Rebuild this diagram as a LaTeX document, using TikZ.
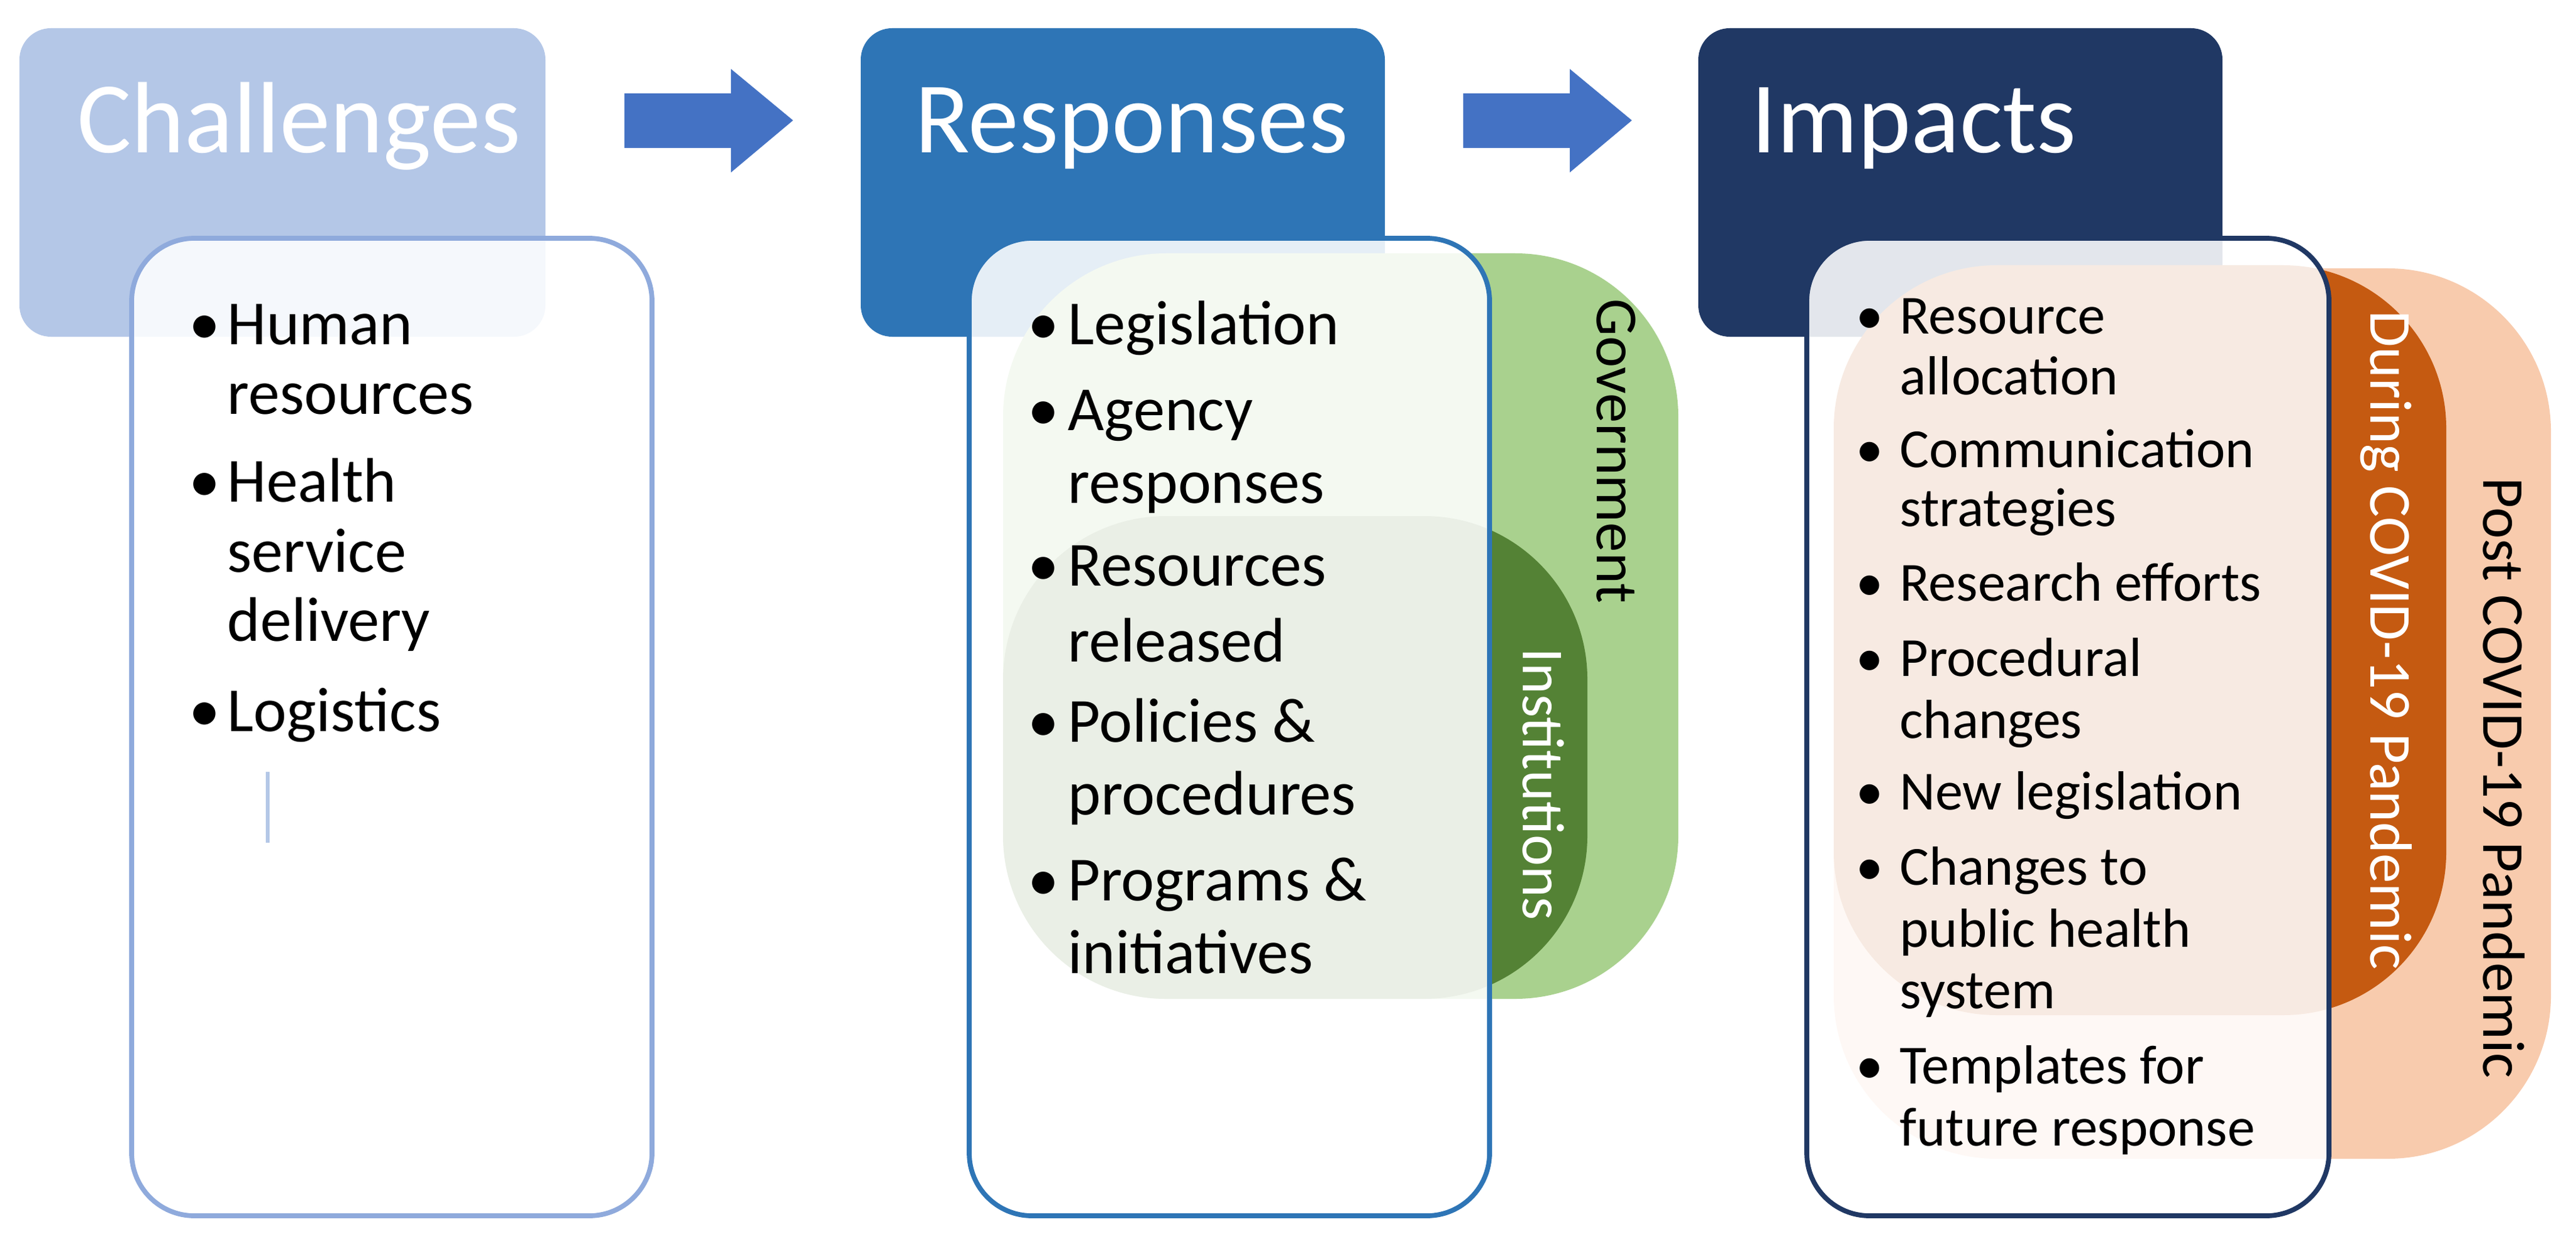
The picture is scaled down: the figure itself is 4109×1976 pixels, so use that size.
\documentclass[tikz,border=0pt]{standalone}
\usepackage{fontspec}
\setmainfont{Carlito}
\usetikzlibrary{positioning}
\definecolor{chB}{HTML}{B4C7E7}
\definecolor{chL}{HTML}{8FAADC}
\definecolor{rsB}{HTML}{2E75B6}
\definecolor{imB}{HTML}{203864}
\definecolor{arB}{HTML}{4472C4}
\definecolor{gvL}{HTML}{A9D18E}
\definecolor{gvD}{HTML}{548235}
\definecolor{orD}{HTML}{C55A11}
\definecolor{orL}{HTML}{F8CBAD}
\tikzset{
  head/.style={rounded corners=0.5cm},
  body/.style={rounded corners=1cm, fill=white, fill opacity=0.88, line width=2.2pt},
  lobe/.style={rounded corners=2.6cm},
  htxt/.style={anchor=base west, inner sep=0, text=white, font=\fontsize{46}{50}\selectfont},
  rtxt/.style={anchor=base west, inner sep=0, font=\fontsize{28.5}{30}\selectfont},
  itxt/.style={anchor=base west, inner sep=0, font=\fontsize{25}{27}\selectfont},
  bul/.style={anchor=base east, inner sep=0},
  vtxt/.style={rotate=-90, inner sep=0},
}
\begin{document}
\begin{tikzpicture}[x=0.01cm,y=-0.01cm]
\useasboundingbox (0,0) rectangle (4109,1976);
% headers
\fill[chB,head] (31,45) rectangle (870,537);
\fill[rsB,head] (1373,45) rectangle (2209,537);
\fill[imB,head] (2709,45) rectangle (3545,537);
\node[htxt] (hc) at (123,244) {Challenges};
\node[htxt] (hr) at (1459,244) {Responses};
\node[htxt] (hi) at (2793,244) {Impacts};
% arrows
\fill[arB] (996,149) -- (1166,149) -- (1166,110) -- (1265,192) -- (1166,275) -- (1166,236) -- (996,236) -- cycle;
\fill[arB] (2334,149) -- (2504,149) -- (2504,110) -- (2603,192) -- (2504,275) -- (2504,236) -- (2334,236) -- cycle;
% green lobes
\fill[gvL,lobe] (1600,404) rectangle (2677,1593);
\fill[gvD,lobe] (1600,823) rectangle (2532,1593);
\node[vtxt,font=\fontsize{27}{29}\selectfont] (gov) at (2578,719) {Government};
\node[vtxt,text=white,font=\fontsize{27}{29}\selectfont] (inst) at (2462,1251) {Institutions};
% orange lobes
\fill[orL,lobe] (2925,428) rectangle (4069,1848);
\fill[orD,lobe] (2925,423) rectangle (3902,1619);
\node[vtxt,font=\fontsize{27}{29}\selectfont] (post) at (3994,1241) {Post COVID-19 Pandemic};
\node[vtxt,text=white,font=\fontsize{27}{29}\selectfont] (dur) at (3806,1021) {During COVID-19 Pandemic};
% bodies
\filldraw[body,draw=chL] (210,380) rectangle (1040,1939);
\filldraw[body,draw=rsB] (1546,380) rectangle (2376,1939);
\filldraw[body,draw=imB] (2882,380) rectangle (3715,1939);
% challenges text
\foreach \y/\t in {550/Human,800/Health,1166/Logistics}{\node[rtxt,bul] at (352,\y) {•};}
\node[rtxt] at (362,550) {Human};
\node[rtxt] at (362,660) {resources};
\node[rtxt] at (362,800) {Health};
\node[rtxt] at (362,912) {service};
\node[rtxt] at (362,1022) {delivery};
\node[rtxt] at (362,1166) {Logistics};
\draw[chB,line width=1.5pt] (427,1231) -- (427,1344);
% responses text
\foreach \y in {549,686,934,1183,1436}{\node[rtxt,bul] at (1690,\y) {•};}
\node[rtxt] at (1703,549) {Legislation};
\node[rtxt] at (1703,686) {Agency};
\node[rtxt] at (1703,802) {responses};
\node[rtxt] at (1703,934) {Resources};
\node[rtxt] at (1703,1055) {released};
\node[rtxt] at (1703,1183) {Policies \&};
\node[rtxt] at (1703,1299) {procedures};
\node[rtxt] at (1703,1436) {Programs \&};
\node[rtxt] at (1703,1552) {initiatives};
% impacts text
\foreach \y in {532,745,958,1078,1291,1411,1728}{\node[itxt,bul] at (3005,\y) {•};}
\node[itxt] at (3030,532) {Resource};
\node[itxt] at (3030,629) {allocation};
\node[itxt] at (3030,745) {Communication};
\node[itxt] at (3030,839) {strategies};
\node[itxt] at (3030,958) {Research efforts};
\node[itxt] at (3030,1078) {Procedural};
\node[itxt] at (3030,1177) {changes};
\node[itxt] at (3030,1291) {New legislation};
\node[itxt] at (3030,1411) {Changes to};
\node[itxt] at (3030,1510) {public health};
\node[itxt] at (3030,1608) {system};
\node[itxt] at (3030,1728) {Templates for};
\node[itxt] at (3030,1827) {future response};
\end{tikzpicture}
\end{document}
